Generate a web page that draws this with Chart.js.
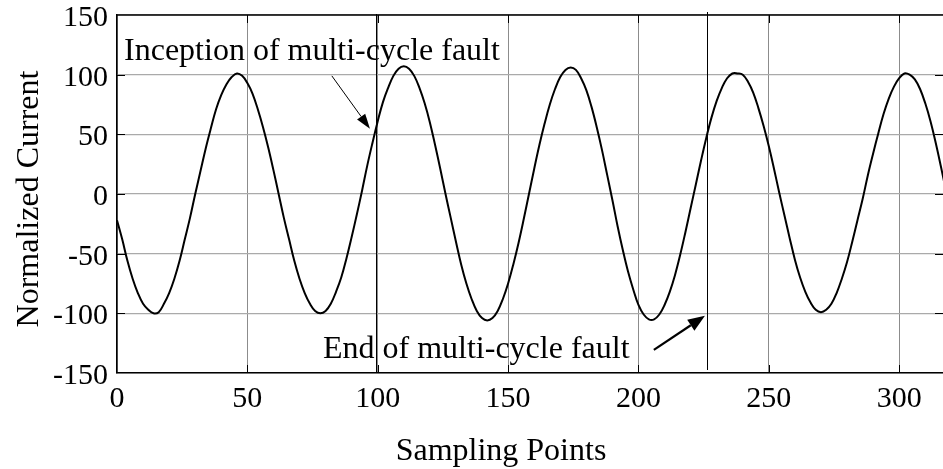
<!DOCTYPE html>
<html>
<head>
<meta charset="utf-8">
<script src="https://cdn.jsdelivr.net/npm/chart.js@4.4.1/dist/chart.umd.min.js"></script>
<style>
  html, body { margin: 0; padding: 0; background: #fff; }
  #contenedor { width: 943px; height: 469px; }
</style>
</head>
<body>
<div id="contenedor"><canvas id="graficaCorriente"></canvas></div>
<script>
// Puntos de muestreo (eje x)
const puntos = [
    0, 2, 4, 6, 8, 10, 12, 14, 16, 18, 20, 22, 24, 26, 28, 30, 32, 34, 36, 38,
    40, 42, 44, 46, 48, 50, 52, 54, 56, 58, 60, 62, 64, 66, 68, 70, 72, 74, 76, 78,
    80, 82, 84, 86, 88, 90, 92, 94, 96, 98, 100, 102, 104, 106, 108, 110, 112, 114, 116, 118,
    120, 122, 124, 126, 128, 130, 132, 134, 136, 138, 140, 142, 144, 146, 148, 150, 152, 154, 156, 158,
    160, 162, 164, 166, 168, 170, 172, 174, 176, 178, 180, 182, 184, 186, 188, 190, 192, 194, 196, 198,
    200, 202, 204, 206, 208, 210, 212, 214, 216, 218, 220, 222, 224, 226, 228, 230, 232, 234, 236, 238,
    240, 242, 244, 246, 248, 250, 252, 254, 256, 258, 260, 262, 264, 266, 268, 270, 272, 274, 276, 278,
    280, 282, 284, 286, 288, 290, 292, 294, 296, 298, 300, 302, 304, 306, 308, 310, 312, 314, 316, 318
];

// Corriente normalizada
const corriente = [
    -22, -38, -56, -71, -83, -92, -97, -100, -99, -92, -83, -71, -56, -38, -20, 0, 19, 38, 55, 71,
    83, 92, 98, 101, 99, 93, 84, 71, 56, 39, 20, 0, -20, -38, -56, -71, -83, -92, -98, -100,
    -98, -92, -82, -70, -54, -36, -17, 3, 24, 43, 61, 77, 89, 99, 105, 107, 105, 99, 89, 76,
    60, 41, 21, 0, -20, -40, -59, -75, -88, -98, -104, -106, -104, -98, -88, -75, -59, -41, -21, 0,
    21, 41, 59, 75, 88, 98, 104, 106, 104, 97, 87, 73, 56, 37, 16, -5, -27, -47, -65, -80,
    -93, -101, -105, -105, -101, -93, -82, -68, -51, -32, -12, 8, 28, 47, 64, 78, 89, 97, 101, 101,
    100, 94, 85, 72, 57, 40, 21, 1, -18, -37, -55, -70, -82, -91, -97, -99, -97, -92, -83, -71,
    -57, -40, -22, -4, 16, 34, 51, 67, 80, 90, 97, 101, 100, 96, 88, 76, 61, 43, 23, 2
];

// Marcas de los ejes
const marcasX = [0, 50, 100, 150, 200, 250, 300];
const marcasY = [-150, -100, -50, 0, 50, 100, 150];

// Anotaciones de la falla (en unidades de los ejes)
const inicioFalla = 99.5;
const finFalla = 226.3;
const textoInicio = 'Inception of multi-cycle fault';
const textoFin = 'End of multi-cycle fault';
const posTextoInicio = [2.7, 112.5];
const posTextoFin = [79, -137.1];
const flechaInicio = [[82.4, 99], [97.0, 54.7]];
const flechaFin = [[205.9, -130.6], [225.5, -102.1]];

const fuente = '"Liberation Serif", "Times New Roman", serif';
Chart.defaults.font.family = fuente;
Chart.defaults.color = '#000';

// Dibuja una flecha con punta rellena
function dibujarFlecha(ctx, x1, y1, x2, y2, grosor, largo, ancho) {
    const ang = Math.atan2(y2 - y1, x2 - x1);
    const bx = x2 - largo * Math.cos(ang);
    const by = y2 - largo * Math.sin(ang);
    ctx.lineWidth = grosor;
    ctx.beginPath();
    ctx.moveTo(x1, y1);
    ctx.lineTo(bx, by);
    ctx.stroke();
    ctx.beginPath();
    ctx.moveTo(x2, y2);
    ctx.lineTo(bx + ancho * Math.sin(ang), by - ancho * Math.cos(ang));
    ctx.lineTo(bx - ancho * Math.sin(ang), by + ancho * Math.cos(ang));
    ctx.closePath();
    ctx.fill();
}

// Plugin para marcas internas, borde superior, titulos y anotaciones
const pluginAnotaciones = {
    id: 'anotaciones',
    afterDatasetsDraw(chart) {
        const { ctx, chartArea: area, scales: { x, y } } = chart;
        ctx.save();
        ctx.strokeStyle = '#000';
        ctx.fillStyle = '#000';

        // marcas internas cortas
        ctx.lineWidth = 1;
        ctx.beginPath();
        marcasX.slice(1).forEach(v => {
            const px = Math.round(x.getPixelForValue(v)) + 0.5;
            ctx.moveTo(px, area.top); ctx.lineTo(px, area.top + 8);
            ctx.moveTo(px, area.bottom); ctx.lineTo(px, area.bottom - 8);
        });
        marcasY.slice(1, -1).forEach(v => {
            const py = Math.round(y.getPixelForValue(v)) + 0.5;
            ctx.moveTo(area.left, py); ctx.lineTo(area.left + 8, py);
            ctx.moveTo(area.right, py); ctx.lineTo(area.right - 8, py);
        });
        ctx.stroke();

        // borde superior
        ctx.lineWidth = 1.5;
        ctx.beginPath();
        ctx.moveTo(area.left, area.top);
        ctx.lineTo(area.right, area.top);
        ctx.stroke();

        // lineas verticales de inicio y fin de la falla
        ctx.lineWidth = 1;
        ctx.beginPath();
        const xi = Math.round(x.getPixelForValue(inicioFalla)) + 0.5;
        ctx.moveTo(xi, area.top - 1); ctx.lineTo(xi, area.bottom);
        const xf = Math.round(x.getPixelForValue(finFalla)) + 0.5;
        ctx.moveTo(xf, area.top - 3); ctx.lineTo(xf, area.bottom - 3);
        ctx.stroke();

        // textos
        ctx.font = '32px ' + fuente;
        ctx.textAlign = 'left';
        ctx.textBaseline = 'alphabetic';
        ctx.fillText(textoInicio, x.getPixelForValue(posTextoInicio[0]), y.getPixelForValue(posTextoInicio[1]));
        ctx.fillText(textoFin, x.getPixelForValue(posTextoFin[0]), y.getPixelForValue(posTextoFin[1]));

        // flechas
        dibujarFlecha(ctx,
            x.getPixelForValue(flechaInicio[0][0]), y.getPixelForValue(flechaInicio[0][1]),
            x.getPixelForValue(flechaInicio[1][0]), y.getPixelForValue(flechaInicio[1][1]),
            1, 15, 5);
        dibujarFlecha(ctx,
            x.getPixelForValue(flechaFin[0][0]), y.getPixelForValue(flechaFin[0][1]),
            x.getPixelForValue(flechaFin[1][0]), y.getPixelForValue(flechaFin[1][1]),
            2.2, 17, 6.5);

        // titulos de los ejes
        ctx.textAlign = 'center';
        ctx.fillText('Sampling Points', area.left + 384, area.bottom + 87);
        ctx.translate(area.left - 79, (area.top + area.bottom) / 2 + 5);
        ctx.rotate(-Math.PI / 2);
        ctx.fillText('Normalized Current', 0, 0);
        ctx.restore();
    }
};

const ctx = document.getElementById('graficaCorriente').getContext('2d');

new Chart(ctx, {
    type: 'line',
    data: {
        datasets: [{
            data: puntos.map((p, i) => ({ x: p, y: corriente[i] })),
            borderColor: '#000',
            borderWidth: 2,
            pointRadius: 0,
            tension: 0.4,
            fill: false
        }]
    },
    options: {
        responsive: true,
        maintainAspectRatio: false,
        animation: false,
        layout: {
            padding: { top: 15, right: 0, bottom: 0, left: 0 }
        },
        plugins: {
            legend: { display: false },
            tooltip: { enabled: false }
        },
        scales: {
            x: {
                type: 'linear',
                min: 0,
                max: 316.8,
                afterFit(escala) {
                    escala.height = 96;
                    escala.paddingLeft = 0;
                    escala.paddingRight = 0;
                },
                afterBuildTicks(escala) { escala.ticks = marcasX.map(v => ({ value: v })); },
                ticks: {
                    font: { size: 30 },
                    padding: 8,
                    maxRotation: 0,
                    includeBounds: false
                },
                grid: { color: '#8c8c8c', lineWidth: 1, drawTicks: false },
                border: { display: true, color: '#000', width: 1.5 }
            },
            y: {
                min: -150,
                max: 150,
                afterFit(escala) {
                    escala.width = 117;
                    escala.paddingTop = 0;
                    escala.paddingBottom = 0;
                },
                afterBuildTicks(escala) { escala.ticks = marcasY.map(v => ({ value: v })); },
                ticks: {
                    font: { size: 30 },
                    padding: 9,
                    labelOffset: 3
                },
                grid: { color: '#aaaaaa', lineWidth: 1.2, drawTicks: false },
                border: { display: true, color: '#000', width: 1.5 }
            }
        }
    },
    plugins: [pluginAnotaciones]
});
</script>
</body>
</html>
